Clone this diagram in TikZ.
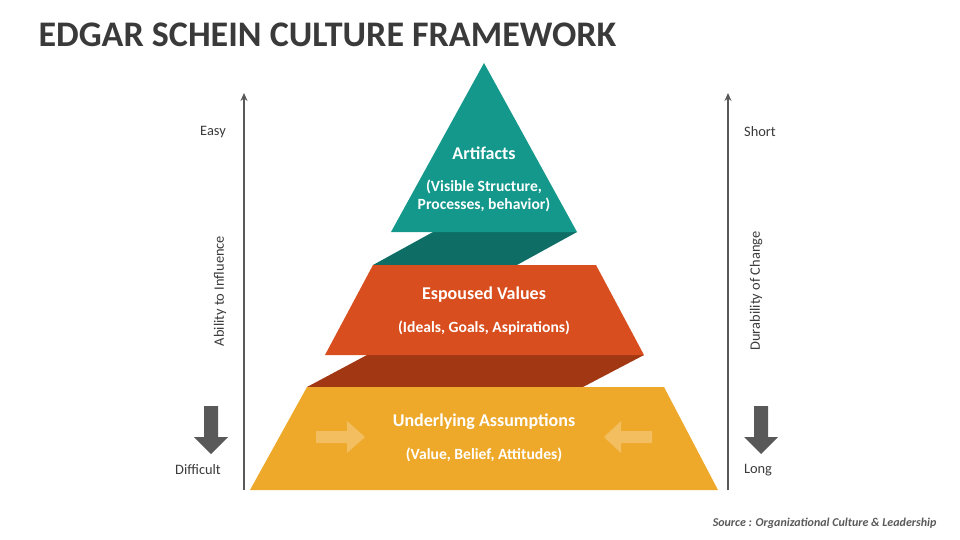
\documentclass[tikz,border=0pt]{standalone}
\usepackage{fontspec}
\setmainfont{Carlito}
\usetikzlibrary{arrows.meta}
\definecolor{teal1}{HTML}{14988B}
\definecolor{teal2}{HTML}{0E6E66}
\definecolor{org1}{HTML}{D94E1E}
\definecolor{org2}{HTML}{A23713}
\definecolor{yel1}{HTML}{EEA92B}
\definecolor{gry}{HTML}{595959}
\definecolor{txt}{HTML}{3A3A3A}
\begin{document}
\begin{tikzpicture}[x=1pt,y=-1pt,
  lbl/.style={font=\fontsize{14.4}{17}\selectfont,text=txt},
  wt/.style={text=white,font=\bfseries\fontsize{18}{21}\selectfont},
  ws/.style={text=white,font=\bfseries\fontsize{15.6}{19}\selectfont,align=center},
  axis/.style={gry,line width=2pt,-{Stealth[length=8pt,width=7pt]}},
  bigdown/.style={fill=gry},
  lite/.style={fill=white,fill opacity=0.25}]
\useasboundingbox (0,0) rectangle (960,540);
\node[anchor=west,font=\bfseries\fontsize{36}{40}\selectfont,text=txt] (title) at (35,35) {EDGAR SCHEIN CULTURE FRAMEWORK};
% bands
\fill[teal2] (433,232) -- (577,232) -- (517,265) -- (373,265) -- cycle;
\fill[org2] (367,355) -- (644,355) -- (583,387) -- (307,387) -- cycle;
% shapes
\fill[teal1] (484,63) -- (577,232) -- (391,232) -- cycle;
\fill[org1] (373,265) -- (596,265) -- (644,355) -- (325,355) -- cycle;
\fill[yel1] (307,387) -- (664,387) -- (718,490) -- (250,490) -- cycle;
% light arrows
\fill[lite] (316,431) -- (347,431) -- (347,421) -- (365,437) -- (347,453) -- (347,443) -- (316,443) -- cycle;
\fill[lite] (652,431) -- (621,431) -- (621,421) -- (604,437) -- (621,453) -- (621,443) -- (652,443) -- cycle;
% texts
\node[wt] (art) at (484,153) {Artifacts};
\node[ws] (arts) at (484,196) {(Visible Structure,\\[-1pt]Processes, behavior)};
\node[wt] (esp) at (484,295) {Espoused Values};
\node[ws] (esps) at (484,328) {(Ideals, Goals, Aspirations)};
\node[wt] (und) at (484,422) {Underlying Assumptions};
\node[ws] (unds) at (484,455) {(Value, Belief, Attitudes)};
% axes
\coordinate (l0) at (244,490); \coordinate (l1) at (244,93);
\coordinate (r0) at (728,490); \coordinate (r1) at (728,93);
\draw[axis] (l0) -- (l1);
\draw[axis] (r0) -- (r1);
\node[lbl] (easy) at (213,132) {Easy};
\node[lbl] (diff) at (198,470) {Difficult};
\node[lbl] (short) at (760,132) {Short};
\node[lbl] (long) at (758,470) {Long};
\node[lbl,rotate=90] (abi) at (220,291) {Ability to Influence};
\node[lbl,rotate=90] (dur) at (756,291) {Durability of Change};
\fill[bigdown] (204,406) -- (218,406) -- (218,437) -- (228,437) -- (211,454) -- (194,437) -- (204,437) -- cycle;
\fill[bigdown] (754,406) -- (768,406) -- (768,437) -- (778,437) -- (761,454) -- (744,437) -- (754,437) -- cycle;
\node[anchor=east,font=\bfseries\itshape\fontsize{12}{14}\selectfont,text=gry] (src) at (940,523) {Source : Organizational Culture \& Leadership};
\end{tikzpicture}
\end{document}
